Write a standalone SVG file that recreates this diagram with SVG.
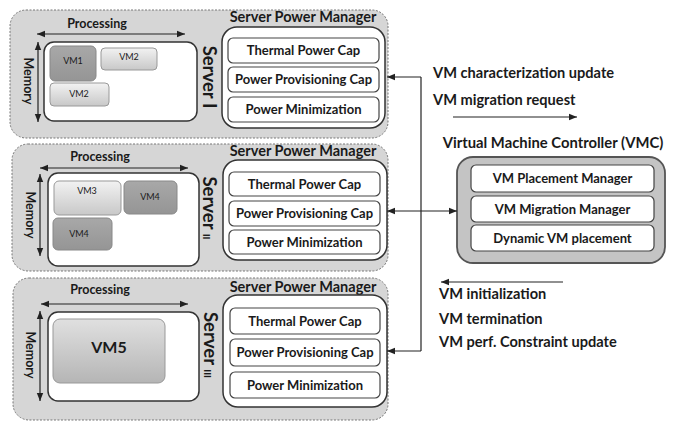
<svg xmlns="http://www.w3.org/2000/svg" width="679" height="422" viewBox="0 0 679 422">
<style>
text{font-family:Lato,"Open Sans","Liberation Sans",sans-serif;font-weight:bold;fill:#1a1a1a}
.srv{fill:#d6d6d6;stroke:#777;stroke-width:1;stroke-dasharray:2 1.5}
.area{fill:#fff;stroke:#333;stroke-width:1.5}
.spm{fill:#fff;stroke:#333;stroke-width:1.5}
.cap{fill:#fff;stroke:#444;stroke-width:1.2}
.cap-t{font-size:13px;text-anchor:middle}
.ttl{font-size:14.5px;text-anchor:middle}
.axis{font-size:12.5px;text-anchor:middle}
.sname{font-size:18.5px;text-anchor:middle}
.vm-t{font-size:9px;text-anchor:middle;font-weight:normal}
.vmd{fill:url(#gd);stroke:#888;stroke-width:1}
.vml{fill:url(#gl);stroke:#999;stroke-width:1}
.ax{stroke:#222;stroke-width:1.2;fill:none}
.ln{stroke:#222;stroke-width:1.2;fill:none}
.lbl{font-size:14.6px}
</style>
<defs>
<linearGradient id="gl" x1="0" y1="0" x2="0" y2="1"><stop offset="0" stop-color="#f2f2f2"/><stop offset="1" stop-color="#c8c8c8"/></linearGradient>
<linearGradient id="gd" x1="0" y1="0" x2="0" y2="1"><stop offset="0" stop-color="#a8a8a8"/><stop offset="1" stop-color="#959595"/></linearGradient>
<linearGradient id="g5" x1="0" y1="0" x2="0" y2="1"><stop offset="0" stop-color="#e0e0e0"/><stop offset="1" stop-color="#b5b5b5"/></linearGradient>
<marker id="ah" viewBox="0 0 10 10" refX="10" refY="5" markerWidth="7" markerHeight="7" orient="auto-start-reverse"><path d="M0,1 L10,5 L0,9 z" fill="#222"/></marker>
</defs>

<g id="server-1">
<rect class="srv" x="10" y="10" width="378" height="128" rx="16"/>
<text class="axis" x="97" y="28">Processing</text>
<line class="ax" x1="37" y1="34" x2="185" y2="34" marker-start="url(#ah)" marker-end="url(#ah)"/>
<line class="ax" x1="38" y1="42" x2="38" y2="122" marker-start="url(#ah)" marker-end="url(#ah)"/>
<text class="axis" transform="translate(24,81) rotate(90)">Memory</text>
<rect class="area" x="44" y="42" width="153" height="79" rx="10"/>
<rect class="vmd" x="50" y="46" width="46" height="35" rx="5"/><text class="vm-t" x="73" y="64">VM1</text>
<rect class="vml" x="101" y="48" width="56" height="22" rx="4"/><text class="vm-t" x="129" y="60">VM2</text>
<rect class="vml" x="50" y="83" width="59" height="23" rx="4"/><text class="vm-t" x="79" y="97">VM2</text>
<text class="sname" transform="translate(203,77) rotate(90)">Server I</text>
<text class="ttl" x="303" y="22">Server Power Manager</text>
<rect class="spm" x="222" y="27" width="163" height="101" rx="15"/>
<rect class="cap" x="228" y="38" width="151" height="25" rx="5"/><text class="cap-t" x="303.5" y="55">Thermal Power Cap</text>
<rect class="cap" x="228" y="67" width="151" height="25" rx="5"/><text class="cap-t" x="303.5" y="84">Power Provisioning Cap</text>
<rect class="cap" x="228" y="97" width="151" height="25" rx="5"/><text class="cap-t" x="303.5" y="114">Power Minimization</text>
</g>

<g id="server-2">
<rect class="srv" x="12" y="144" width="376" height="127" rx="16"/>
<text class="axis" x="100" y="161">Processing</text>
<line class="ax" x1="40" y1="168" x2="188" y2="168" marker-start="url(#ah)" marker-end="url(#ah)"/>
<line class="ax" x1="40" y1="174" x2="40" y2="256" marker-start="url(#ah)" marker-end="url(#ah)"/>
<text class="axis" transform="translate(26,215) rotate(90)">Memory</text>
<rect class="area" x="48" y="173" width="151" height="93" rx="10"/>
<rect class="vml" x="54" y="181" width="67" height="34" rx="5"/><text class="vm-t" x="87" y="194">VM3</text>
<rect class="vmd" x="124" y="181" width="53" height="33" rx="5"/><text class="vm-t" x="150" y="200">VM4</text>
<rect class="vmd" x="53" y="218" width="59" height="32" rx="5"/><text class="vm-t" x="79" y="237">VM4</text>
<text class="sname" transform="translate(203,208) rotate(90)">Server <tspan font-size="10">II</tspan></text>
<text class="ttl" x="303" y="156">Server Power Manager</text>
<rect class="spm" x="223" y="160" width="164" height="100" rx="15"/>
<rect class="cap" x="229" y="172" width="151" height="24" rx="5"/><text class="cap-t" x="304.5" y="188.5">Thermal Power Cap</text>
<rect class="cap" x="229" y="201" width="151" height="25" rx="5"/><text class="cap-t" x="304.5" y="218">Power Provisioning Cap</text>
<rect class="cap" x="229" y="230" width="151" height="24" rx="5"/><text class="cap-t" x="304.5" y="246.5">Power Minimization</text>
</g>

<g id="server-3">
<rect class="srv" x="13" y="278" width="375" height="142" rx="16"/>
<text class="axis" x="100" y="294">Processing</text>
<line class="ax" x1="41" y1="304" x2="188" y2="304" marker-start="url(#ah)" marker-end="url(#ah)"/>
<line class="ax" x1="40" y1="311" x2="40" y2="401" marker-start="url(#ah)" marker-end="url(#ah)"/>
<text class="axis" transform="translate(26,355) rotate(90)">Memory</text>
<rect class="area" x="48" y="312" width="151" height="89" rx="10"/>
<rect x="53" y="319" width="112" height="64" rx="7" fill="url(#g5)" stroke="#999"/>
<text x="109" y="353" font-size="16" text-anchor="middle">VM5</text>
<text class="sname" transform="translate(204,345) rotate(90)">Server <tspan font-size="10">III</tspan></text>
<text class="ttl" x="303" y="292">Server Power Manager</text>
<rect class="spm" x="223" y="295" width="164" height="112" rx="15"/>
<rect class="cap" x="230" y="308" width="150" height="26" rx="5"/><text class="cap-t" x="305" y="325.5">Thermal Power Cap</text>
<rect class="cap" x="230" y="339" width="150" height="27" rx="5"/><text class="cap-t" x="305" y="357">Power Provisioning Cap</text>
<rect class="cap" x="230" y="372" width="150" height="26" rx="5"/><text class="cap-t" x="305" y="389.5">Power Minimization</text>
</g>

<g id="vmc">
<text x="553" y="148" font-size="14.8" text-anchor="middle">Virtual Machine Controller (VMC)</text>
<rect x="457" y="157" width="208" height="106" rx="16" fill="#c4c4c4" stroke="#555" stroke-width="1.8"/>
<rect class="cap" x="471" y="165" width="183" height="27" rx="5"/><text class="cap-t" x="562.5" y="183">VM Placement Manager</text>
<rect class="cap" x="471" y="196" width="183" height="26" rx="5"/><text class="cap-t" x="562.5" y="213.5">VM Migration Manager</text>
<rect class="cap" x="471" y="225" width="183" height="26" rx="5"/><text class="cap-t" x="562.5" y="242.5">Dynamic VM placement</text>
</g>

<g id="connectors">
<polyline class="ln" points="421,351 421,77"/>
<line class="ln" x1="421" y1="77" x2="387" y2="77" marker-end="url(#ah)"/>
<line class="ln" x1="421" y1="351" x2="387" y2="351" marker-end="url(#ah)"/>
<line class="ln" x1="387" y1="211" x2="457" y2="211" marker-start="url(#ah)" marker-end="url(#ah)"/>
<line class="ln" x1="453" y1="117" x2="577" y2="117" marker-end="url(#ah)"/>
<line class="ln" x1="563" y1="282" x2="441" y2="282" marker-end="url(#ah)"/>
</g>

<g id="labels">
<text class="lbl" x="433" y="78">VM characterization update</text>
<text class="lbl" x="433" y="105">VM migration request</text>
<text class="lbl" x="439" y="299">VM initialization</text>
<text class="lbl" x="439" y="324">VM termination</text>
<text class="lbl" x="439" y="347">VM perf. Constraint update</text>
</g>
</svg>
